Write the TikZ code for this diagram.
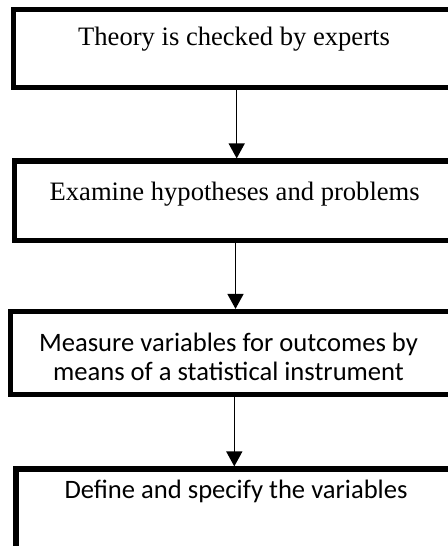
\documentclass[tikz,border=0pt]{standalone}
\usepackage{fontspec}
\setmainfont{Liberation Serif}
\newfontfamily\calfont{Carlito}
\usetikzlibrary{arrows.meta}
\begin{document}
\begin{tikzpicture}[x=0.5pt,y=-0.5pt,
  box/.style={draw=black,line width=2.6pt,rectangle,inner sep=0pt,fill=white},
  lbl/.style={anchor=base,inner sep=0pt,font=\fontsize{13.3}{14.15}\selectfont},
  lblc/.style={lbl,font=\calfont\fontsize{13.3}{14.15}\selectfont,align=center},
  conn/.style={line width=0.75pt,-{Triangle[width=8pt,length=7.5pt]}}]
\useasboundingbox (0,0) rectangle (448,546);
\clip (0,0) rectangle (448,546);
\node[box,minimum width=223.2pt,minimum height=39pt] (b1) at (236.7,48.5) {};
\node[box,minimum width=221.3pt,minimum height=39.65pt] (b2) at (235.5,200.65) {};
\node[box,minimum width=224pt,minimum height=41.5pt] (b3) at (234.3,353) {};
\node[box,minimum width=218.3pt,minimum height=55.5pt] (b4) at (234.3,524.5) {};
\node[lbl] (t1) at (234,45) {Theory is checked by experts};
\node[lbl] (t2) at (234.7,200) {Examine hypotheses and problems};
\node[lblc] (t3) at (228.5,380) {Measure variables for outcomes by\\means of a statistical instrument};
\node[lblc] (t4) at (236,498) {Define and specify the variables};
\draw[conn] (b1.south) -- (b1.south |- b2.north);
\draw[conn] (b2.south) -- (b2.south |- b3.north);
\draw[conn] (b3.south) -- (b3.south |- b4.north);
\end{tikzpicture}
\end{document}
